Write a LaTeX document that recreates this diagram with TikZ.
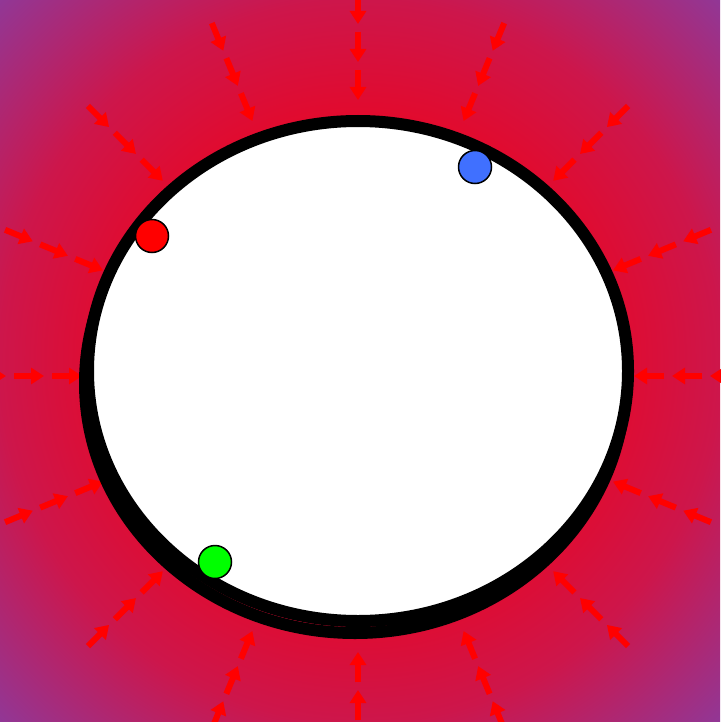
\documentclass[tikz,border=0pt]{standalone}
\usetikzlibrary{arrows.meta,shapes.geometric,calc}
\definecolor{bgred}{RGB}{226,10,45}
\definecolor{bgmid}{RGB}{205,22,75}
\definecolor{bgpurple}{RGB}{145,55,150}
\definecolor{dotblue}{RGB}{64,112,255}
\definecolor{dotgreen}{RGB}{0,255,0}
\pgfdeclareradialshading{bgshade}{\pgfpoint{0bp}{0bp}}{color(0bp)=(bgred); color(17bp)=(bgred); color(25bp)=(bgmid); color(35.4bp)=(bgpurple); color(50bp)=(bgpurple)}
\tikzset{
  arr/.style={red, line width=6pt, -{Triangle[length=13pt,width=16pt]}},
  ringstyle/.style={draw=black, line width=12pt, fill=white, ellipse, inner sep=0pt, minimum width=540pt, minimum height=500pt},
  dot/.style={circle, draw=black, line width=1.5pt, minimum size=33pt, inner sep=0pt}
}
\begin{document}
\begin{tikzpicture}[x=1pt,y=-1pt]
\useasboundingbox (0,0) rectangle (720,722);
\shade[shading=bgshade] (0,0) rectangle (720,722);
\coordinate (c) at (358,376);
\foreach \k in {0,...,15} {
  \foreach \r in {276,314,352} {
    \draw[arr] ($(c)+(\k*22.5:{\r+30})$) -- ($(c)+(\k*22.5:\r)$);
  }
}
\draw[black, line width=12pt] (355,383) ellipse[x radius=270, y radius=250];
\node[ringstyle] (ring) at (358,371) {};
\node[dot, fill=red] (reddot) at (152,236) {};
\node[dot, fill=dotblue] (bluedot) at (475,167) {};
\node[dot, fill=dotgreen] (greendot) at (215,562) {};
\end{tikzpicture}
\end{document}
